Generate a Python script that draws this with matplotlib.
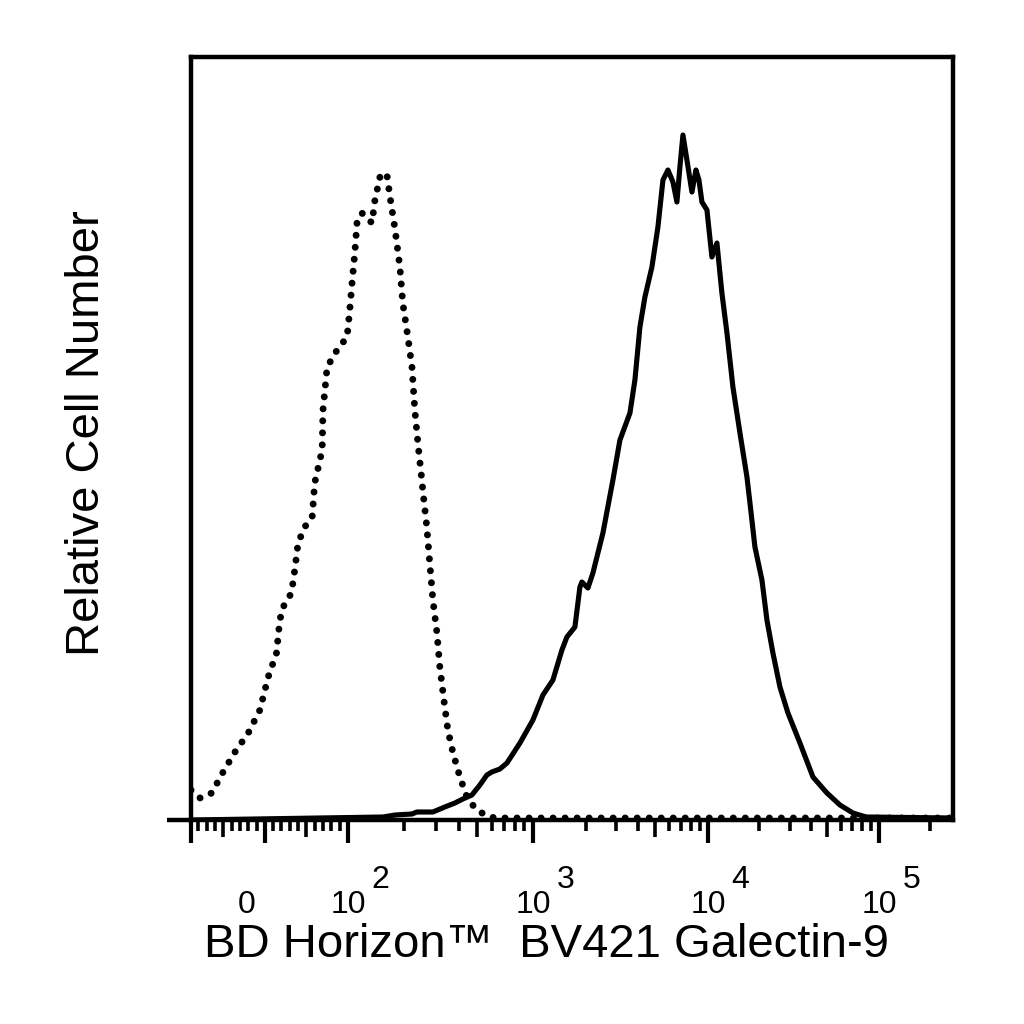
import numpy as np
import matplotlib
matplotlib.use("Agg")
import matplotlib.pyplot as plt
import matplotlib.transforms as mtransforms

# ---------------- data ----------------
ctrl_x = [-89, -78, -64, -51, -36, -20, -6, 4, 14, 18, 22, 32, 36, 40, 48, 57, 60, 69, 70, 75, 87,
          99, 102, 106, 109, 112, 119, 135, 140, 149, 162, 169, 180, 191, 198, 211, 222, 230, 239,
          251, 254, 267, 277, 288, 303, 314, 334, 347, 370, 403, 440, 486, 550, 623, 271000]
ctrl_y = [30, 22, 27, 47, 68, 87, 110, 143, 167, 200, 213, 227, 250, 277, 293, 303, 337, 370, 410,
          453, 470, 483, 507, 543, 567, 597, 607, 597, 620, 643, 647, 623, 590, 553, 517, 483, 453,
          410, 377, 340, 330, 293, 257, 220, 187, 153, 113, 90, 67, 43, 23, 12, 5, 2, 2]

gal_x = [-89, 155, 180, 222, 236, 288, 334, 379, 418, 468, 517, 564, 600, 663, 724, 851, 1000, 1141,
         1301, 1465, 1564, 1738, 1856, 1905, 2062, 2202, 2512, 2865, 3142, 3584, 3827, 4087, 4365,
         4786, 5179, 5534, 5907, 6310, 6650, 6918, 7197, 7586, 8102, 8540, 8885, 9241, 9870, 10550,
         11290, 12070, 12920, 14000, 15390, 16910, 17610, 18830, 20690, 22130, 23990, 26370, 29370,
         34510, 41120, 49650, 59140, 70460, 83950, 271000]
gal_y = [0, 3, 5, 6, 8, 8, 13, 17, 21, 25, 35, 45, 48, 51, 57, 77, 100, 125, 140, 170, 183, 193, 233,
         238, 232, 247, 287, 340, 380, 407, 440, 493, 523, 553, 593, 640, 650, 638, 618, 653, 685,
         660, 628, 650, 640, 618, 610, 563, 577, 527, 487, 433, 387, 343, 317, 273, 240, 200, 167,
         133, 107, 77, 43, 27, 15, 7, 3, 2]

major_ticks = [0, 1e2, 1e3, 1e4, 1e5]
major_exps = ["2", "3", "4", "5"]
x_min, x_max = -89, 271000
y_max = 763

xlabel = "BD Horizon\u2122  BV421 Galectin-9"
ylabel = "Relative Cell Number"

# ---------------- biexponential-like display scale ----------------
DEC = np.array([2.0, 3.0, 4.0, 5.0, 6.0])
POS = np.array([83.0, 268.0, 443.0, 614.0, 785.0])
LIN = 83.0


def fwd(x):
    x = np.asarray(x, dtype=float)
    lin = x / 100.0 * LIN
    lg = np.interp(np.log10(np.maximum(x, 100.0)), DEC, POS)
    return np.where(x <= 100.0, lin, lg)


def inv(u):
    u = np.asarray(u, dtype=float)
    lin = u / LIN * 100.0
    lg = 10 ** np.interp(np.maximum(u, LIN), POS, DEC)
    return np.where(u <= LIN, lin, lg)


plt.rcParams['font.family'] = ['Liberation Sans', 'DejaVu Sans']

fig = plt.figure(figsize=(10.24, 10.24), dpi=100)
ax = fig.add_axes([191 / 1024, 1 - 820 / 1024, 762 / 1024, 763 / 1024])
ax.set_xscale('function', functions=(fwd, inv))
ax.set_xlim(x_min, x_max)
ax.set_ylim(0, y_max)

ax.plot(gal_x, gal_y, color='black', lw=3.7, solid_joinstyle='round', zorder=3)
ax.plot(ctrl_x, ctrl_y, color='black', lw=5.0, linestyle=(0, (0.01, 1.72)),
        dash_capstyle='round', zorder=4)

for s in ax.spines.values():
    s.set_linewidth(3.2)
    s.set_color('black')

# bottom axis line extends a bit to the left of the frame
ax.plot([-0.031, 0], [0, 0], transform=ax.transAxes, color='black', lw=3.2,
        clip_on=False, solid_capstyle='butt')

# ticks
ax.yaxis.set_visible(False)
ax.set_xticks([x_min] + major_ticks)
lin_minor = [v for v in range(-80, 100, 10) if v != 0]
log_minor = [m * 10 ** k for k in (2, 3, 4, 5) for m in range(2, 10) if m * 10 ** k < x_max]
minor_locs = lin_minor + log_minor
ax.set_xticks(minor_locs, minor=True)
ax.tick_params(axis='x', which='major', direction='out', length=16.5, width=3.0,
               labelbottom=False, color='black')
ax.tick_params(axis='x', which='minor', direction='out', length=8, width=2.6,
               labelbottom=False, color='black')
medium = {-50, 50, 500, 5000, 50000}
mticks = ax.xaxis.get_minor_ticks(len(minor_locs))
for t, loc in zip(mticks, minor_locs):
    if loc in medium:
        t.tick1line.set_markersize(12.5)

# tick labels (10 with a large exponent)
trans = mtransforms.blended_transform_factory(ax.transData, ax.transAxes)
ax.annotate("0", xy=(0, 0), xycoords=trans, xytext=(-13, -67), textcoords='offset points',
            ha='center', va='baseline', fontsize=23)
for val, e in zip(major_ticks[1:], major_exps):
    ax.annotate("10", xy=(val, 0), xycoords=trans, xytext=(0, -67), textcoords='offset points',
                ha='center', va='baseline', fontsize=23)
    ax.annotate(e, xy=(val, 0), xycoords=trans, xytext=(17, -49), textcoords='offset points',
                ha='left', va='baseline', fontsize=23)

fig.text(547 / 1024, 1 - 945 / 1024, xlabel, ha='center', va='center', fontsize=34)
fig.text(87 / 1024, 1 - 433 / 1024, ylabel, ha='center', va='center', rotation=90, fontsize=34)

fig.savefig("out.png", dpi=100, facecolor='white')
